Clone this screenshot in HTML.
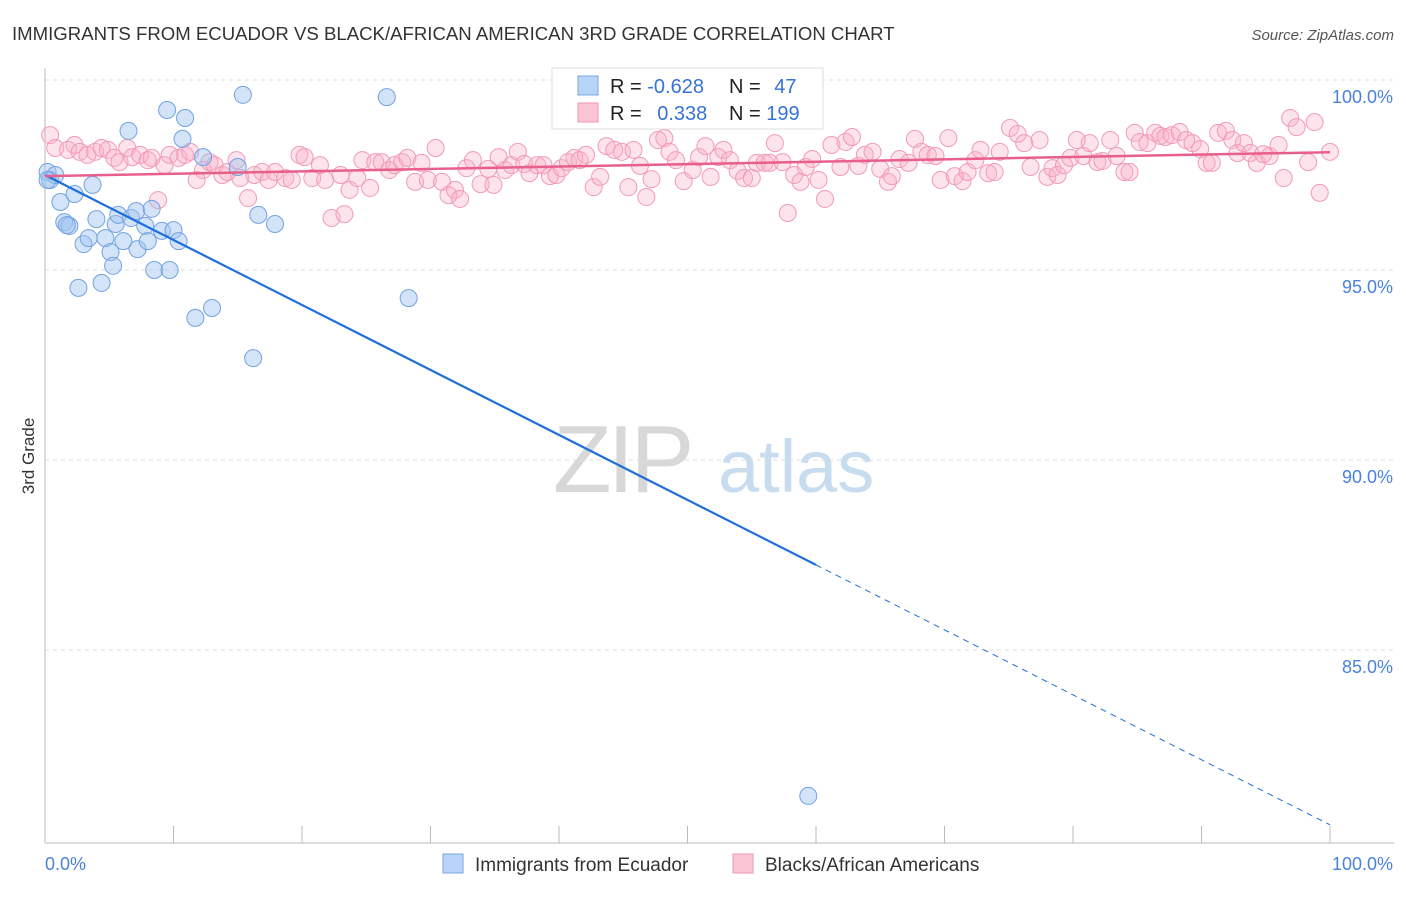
<!DOCTYPE html>
<html><head><meta charset="utf-8"><style>
body{margin:0;background:#fff;font-family:"Liberation Sans",sans-serif;}
svg text{font-family:"Liberation Sans",sans-serif;}
</style></head><body>
<svg id="chart" width="1406" height="892" xmlns="http://www.w3.org/2000/svg">
<text x="12" y="40" font-size="18.6" fill="#333">IMMIGRANTS FROM ECUADOR VS BLACK/AFRICAN AMERICAN 3RD GRADE CORRELATION CHART</text>
<text x="1394" y="40" font-size="15" fill="#555" text-anchor="end" font-style="italic">Source: ZipAtlas.com</text>
<text transform="translate(34,456) rotate(-90)" font-size="17" fill="#333" text-anchor="middle">3rd Grade</text>
<g>
<text x="553" y="492" font-size="96" fill="#d8d8d8" font-family="Liberation Serif" letter-spacing="-4">ZIP</text>
<text x="718" y="492" font-size="74" fill="#c8dcf0">atlas</text>
</g>
<g id="grid"></g>
<g id="axes"></g>
<g id="pts"></g>
<g id="lines"></g>
<g>
<rect x="552" y="68" width="271" height="61" fill="#fff" stroke="#ddd"/>
<rect x="578" y="76" width="20" height="19" fill="#b8d4f6" stroke="#7aa6e4"/>
<rect x="578" y="103" width="20" height="19" fill="#fac6d6" stroke="#f095b2"/>
<text x="610" y="93" font-size="20" fill="#222">R = <tspan fill="#3573d6">-0.628</tspan></text>
<text x="729" y="93" font-size="20" fill="#222">N = <tspan fill="#3573d6" dx="8">47</tspan></text>
<text x="610" y="120" font-size="20" fill="#222">R = <tspan fill="#3573d6" dx="10">0.338</tspan></text>
<text x="729" y="120" font-size="20" fill="#222">N = <tspan fill="#3573d6">199</tspan></text>
</g>
<g>
<rect x="443" y="854" width="20" height="19" fill="#b8d4f6" stroke="#7aa6e4"/>
<text x="475" y="871" font-size="19" fill="#333">Immigrants from Ecuador</text>
<rect x="733" y="854" width="20" height="19" fill="#fac6d6" stroke="#f095b2"/>
<text x="765" y="871" font-size="19" fill="#333">Blacks/African Americans</text>
</g>
</svg>
<script>
const yTicks=[100,95,90,85];
const yTickLabels=["100.0%","95.0%","90.0%","85.0%"];
const xTickLabels=["0.0%","100.0%"];
const blueX=[0.2,0.4,0.8,0.2,1.2,2.3,3.7,6.5,9.5,10.9,10.7,12.3,15.4,26.6,15.0,1.5,1.9,3.0,3.4,4.0,4.7,5.5,5.7,5.1,5.3,6.1,6.7,7.1,7.8,7.2,8.0,8.3,9.1,10.0,10.4,8.5,9.7,2.6,4.4,11.7,13.0,16.2,16.6,17.9,28.3,59.4,1.7];
const blueY=[97.58,97.37,97.5,97.37,96.79,97.0,97.24,98.66,99.21,99.0,98.45,97.97,99.61,99.55,97.71,96.26,96.16,95.68,95.84,96.34,95.84,96.21,96.45,95.47,95.11,95.76,96.37,96.55,96.16,95.55,95.76,96.61,96.03,96.05,95.76,95.0,95.0,94.53,94.66,93.74,94.0,92.68,96.45,96.21,94.26,81.16,96.18];
const pinkX=[0.4,0.8,1.8,2.3,2.7,3.3,3.9,4.4,4.9,5.4,5.8,6.4,6.8,7.4,8.0,8.3,8.8,9.3,9.7,10.4,10.9,11.3,11.8,12.3,12.8,13.2,13.8,14.2,14.9,15.2,15.8,16.3,16.9,17.4,17.9,18.7,19.2,19.8,20.2,20.8,21.4,21.8,22.3,23.0,23.3,23.7,24.3,24.7,25.3,25.7,26.2,26.8,27.2,27.8,28.2,28.8,29.3,29.8,30.4,30.9,31.4,31.9,32.3,32.8,33.3,33.9,34.5,34.9,35.3,35.8,36.3,36.8,37.3,37.7,38.3,38.8,39.3,39.8,40.2,40.7,41.2,41.6,42.1,42.7,43.2,43.7,44.3,44.9,45.4,45.8,46.3,46.8,47.2,47.7,48.2,48.6,49.1,49.7,50.4,50.9,51.4,51.8,52.4,52.8,53.3,53.9,54.4,55.0,55.4,56.0,56.4,56.8,57.4,57.8,58.3,58.8,59.2,59.7,60.2,60.7,61.2,61.9,62.3,62.8,63.3,63.8,64.4,65.0,65.6,65.9,66.5,67.2,67.7,68.2,68.7,69.3,69.7,70.3,70.8,71.4,71.8,72.4,72.8,73.4,73.9,74.3,75.1,75.7,76.2,76.7,77.4,78.0,78.4,78.8,79.3,79.8,80.3,80.8,81.3,81.9,82.3,82.9,83.4,84.0,84.4,84.8,85.2,85.8,86.4,86.8,87.2,87.7,88.3,88.8,89.3,89.9,90.4,90.8,91.3,91.9,92.4,92.8,93.3,93.8,94.3,94.8,95.3,96.0,96.4,96.9,97.4,98.3,98.8,99.2,100.0];
const pinkY=[98.55,98.21,98.16,98.29,98.11,98.03,98.11,98.21,98.16,97.95,97.84,98.21,97.97,98.03,97.89,97.95,96.84,97.76,98.03,97.95,98.03,98.11,97.37,97.63,97.84,97.76,97.5,97.58,97.89,97.42,96.89,97.5,97.58,97.37,97.58,97.42,97.37,98.03,97.97,97.42,97.76,97.37,96.37,97.5,96.47,97.11,97.42,97.89,97.16,97.84,97.84,97.63,97.76,97.84,97.95,97.32,97.82,97.37,98.21,97.32,96.97,97.11,96.87,97.68,97.89,97.26,97.66,97.24,97.97,97.63,97.76,98.11,97.79,97.55,97.76,97.76,97.47,97.5,97.68,97.84,97.95,97.89,98.03,97.18,97.45,98.26,98.16,98.11,97.18,98.16,97.74,96.92,97.39,98.42,98.47,98.11,97.89,97.34,97.63,97.97,98.26,97.45,97.97,98.16,97.89,97.61,97.42,97.42,97.82,97.82,97.82,98.34,97.84,96.5,97.5,97.32,97.71,97.92,97.37,96.87,98.29,97.71,98.37,98.5,97.74,98.03,98.11,97.66,97.32,97.47,97.92,97.82,98.45,98.11,98.03,98.0,97.37,98.47,97.47,97.34,97.58,97.89,98.16,97.55,97.58,98.11,98.74,98.58,98.34,97.71,98.42,97.45,97.68,97.5,97.76,97.95,98.42,98.0,98.34,97.84,97.87,98.42,98.0,97.58,97.58,98.61,98.37,98.34,98.61,98.53,98.5,98.55,98.63,98.42,98.34,98.18,97.82,97.82,98.61,98.66,98.42,98.08,98.34,98.08,97.82,98.05,98.0,98.29,97.42,99.0,98.76,97.84,98.89,97.03,98.11];
const blueTrend=[97.5,80.4];
const pinkTrend=[97.47,98.1];

const X0=45,X1=1330,Y100=80,PPU=38;
const sx=v=>X0+(X1-X0)*v/100;
const sy=v=>Y100+(100-v)*PPU;
const NS="http://www.w3.org/2000/svg";
function mk(tag,attrs,parent){const e=document.createElementNS(NS,tag);for(const k in attrs)e.setAttribute(k,attrs[k]);parent.appendChild(e);return e;}
const grid=document.getElementById('grid'),axes=document.getElementById('axes'),pts=document.getElementById('pts'),lines=document.getElementById('lines');
yTicks.forEach((t,i)=>{
  const l=mk('line',{x1:X0,x2:1394,y1:sy(t),y2:sy(t),stroke:'#ddd','stroke-dasharray':'4,4'},grid);
  
  
  const tx=mk('text',{x:1393,y:sy(t)+23,'font-size':18,fill:'#4a82dc','text-anchor':'end'},axes);
  tx.textContent=yTickLabels[i];
  
  
});
let a=mk('line',{x1:X0,x2:X0,y1:68,y2:843,stroke:'#bbb'},axes);


a=mk('line',{x1:X0,x2:1394,y1:843,y2:843,stroke:'#bbb'},axes);


for(let i=1;i<=10;i++){
  const t=mk('line',{x1:sx(i*10),x2:sx(i*10),y1:826,y2:843,stroke:'#bbb'},axes);
  
  
}
let xl=mk('text',{x:45,y:870,'font-size':18,fill:'#4a82dc'},axes);xl.textContent=xTickLabels[0];


xl=mk('text',{x:1393,y:870,'font-size':18,fill:'#4a82dc','text-anchor':'end'},axes);xl.textContent=xTickLabels[1];


pinkX.forEach((x,i)=>{
  const c=mk('circle',{cx:sx(x),cy:sy(pinkY[i]),r:8.5,fill:'rgba(248,176,198,0.35)',stroke:'#f29ab8','stroke-width':1},pts);
  
  
});
blueX.forEach((x,i)=>{
  const c=mk('circle',{cx:sx(x),cy:sy(blueY[i]),r:8.5,fill:'rgba(160,196,240,0.45)',stroke:'#72a2e2','stroke-width':1},pts);
  
  
});
const bAt=v=>blueTrend[0]+(blueTrend[1]-blueTrend[0])*v/100;
let tl=mk('line',{x1:sx(0),y1:sy(bAt(0)),x2:sx(60),y2:sy(bAt(60)),stroke:'#1f6fd8','stroke-width':2.2},lines);


tl=mk('line',{x1:sx(60),y1:sy(bAt(60)),x2:sx(100),y2:sy(bAt(100)),stroke:'#1f6fd8','stroke-width':1,'stroke-dasharray':'6,5'},lines);


tl=mk('line',{x1:sx(0),y1:sy(pinkTrend[0]),x2:sx(100),y2:sy(pinkTrend[1]),stroke:'#e8608a','stroke-width':2.5},lines);


</script>
</body></html>
